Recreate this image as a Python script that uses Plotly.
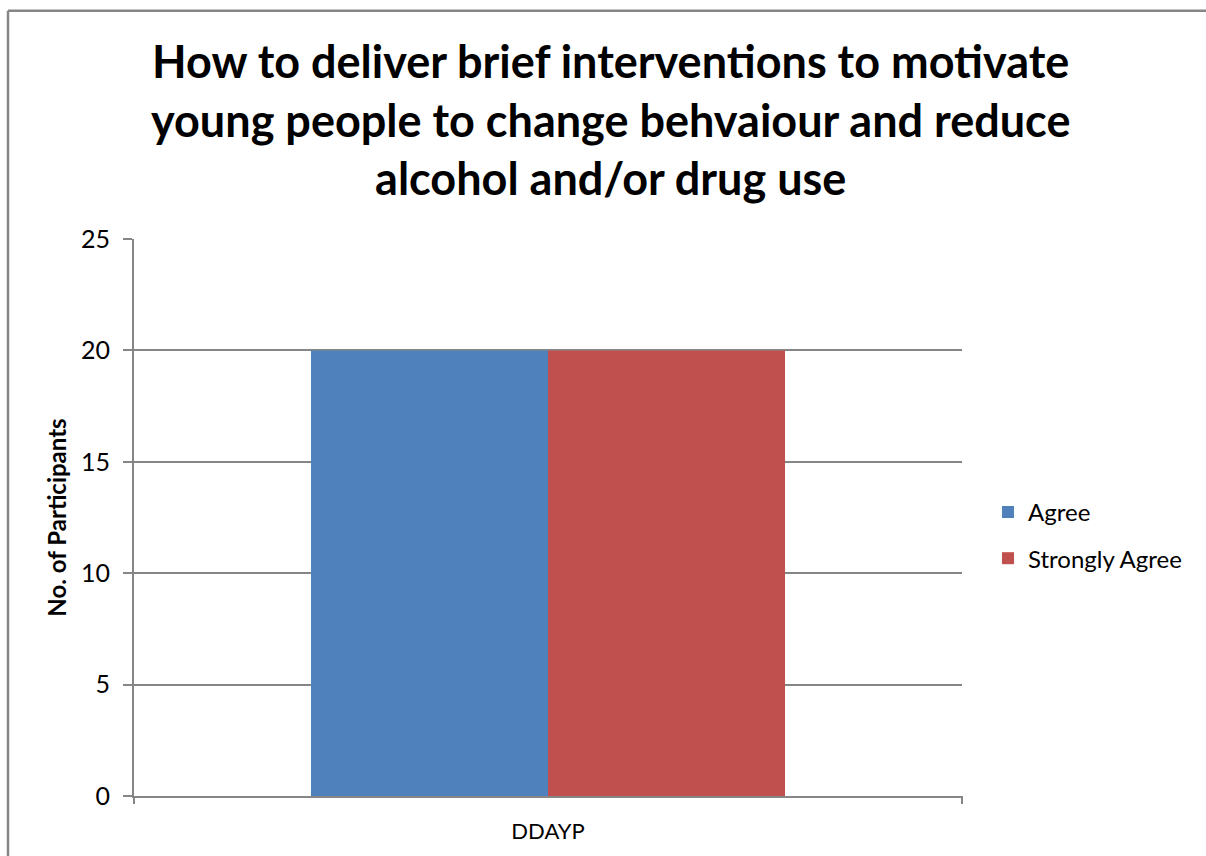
import plotly.graph_objects as go

categories = ["DDAYP"]
agree = [20]
strongly_agree = [20]
y_ticks = [0, 5, 10, 15, 20, 25]
title_text = ("How to deliver brief interventions to motivate<br>"
              "young people to change behvaiour and reduce<br>"
              "alcohol and/or drug use")

L, R, T, B = 134, 962, 239, 799
W, H = 1206, 856

fig = go.Figure()
fig.add_trace(go.Bar(x=categories, y=agree, name="Agree", marker_color="#4F81BD",
                     marker_line_width=0, legendgroup="a"))
fig.add_trace(go.Bar(x=categories, y=strongly_agree, name="Strongly Agree", marker_color="#C0504D",
                     marker_line_width=0, legendgroup="b"))

pw = R - L
ph = B - T
def px(x):
    return (x - L) / pw
def py(y):
    return (B - y) / ph

fig.update_layout(
    width=W, height=H,
    margin=dict(l=L, r=W - R, t=T, b=H - B, pad=0),
    paper_bgcolor="white", plot_bgcolor="white",
    barmode="group", bargap=0.4275, bargroupgap=0,
    font=dict(family="Lato, Carlito, Open Sans, sans-serif", color="#000000"),
    showlegend=True,
    legend=dict(x=px(988), y=py(537), xanchor="left", yanchor="middle",
                font=dict(size=24), traceorder="grouped", tracegroupgap=12,
                itemwidth=30, bgcolor="rgba(0,0,0,0)"),
    xaxis=dict(showline=True, linecolor="#868686", linewidth=2,
               ticks="outside", ticklen=0, tickfont=dict(size=22), ticklabelstandoff=15,
               showgrid=False, zeroline=False),
    yaxis=dict(range=[0, 25], tickvals=y_ticks, showline=True, linecolor="#868686", linewidth=2,
               ticks="outside", ticklen=9, tickcolor="#868686", tickwidth=2,
               gridcolor="#868686", gridwidth=1.5, zeroline=False,
               tickfont=dict(size=25), ticklabelstandoff=8,
               title=dict(text="<b>No. of Participants</b>", font=dict(size=24), standoff=8)),
    annotations=[
        dict(text=title_text, xref="paper", yref="paper", x=px(610), y=py(119),
             xanchor="center", yanchor="middle", showarrow=False, align="center",
             font=dict(size=45, family="Lato, sans-serif", color="#000000", weight="bold")),
    ],
    shapes=[
        dict(type="line", xref="paper", yref="paper", x0=px(8), x1=px(1210), y0=py(9.5), y1=py(9.5),
             line=dict(color="#868686", width=2.5)),
        dict(type="line", xref="paper", yref="paper", x0=px(8), x1=px(8), y0=py(9.5), y1=py(860),
             line=dict(color="#868686", width=2.5)),
        dict(type="line", xref="paper", yref="paper", x0=1, x1=1, y0=0, y1=py(807),
             line=dict(color="#868686", width=2)),
        dict(type="line", xref="paper", yref="paper", x0=0, x1=0, y0=0, y1=py(807),
             line=dict(color="#868686", width=2)),
    ],
)

fig.write_html("out.html")
